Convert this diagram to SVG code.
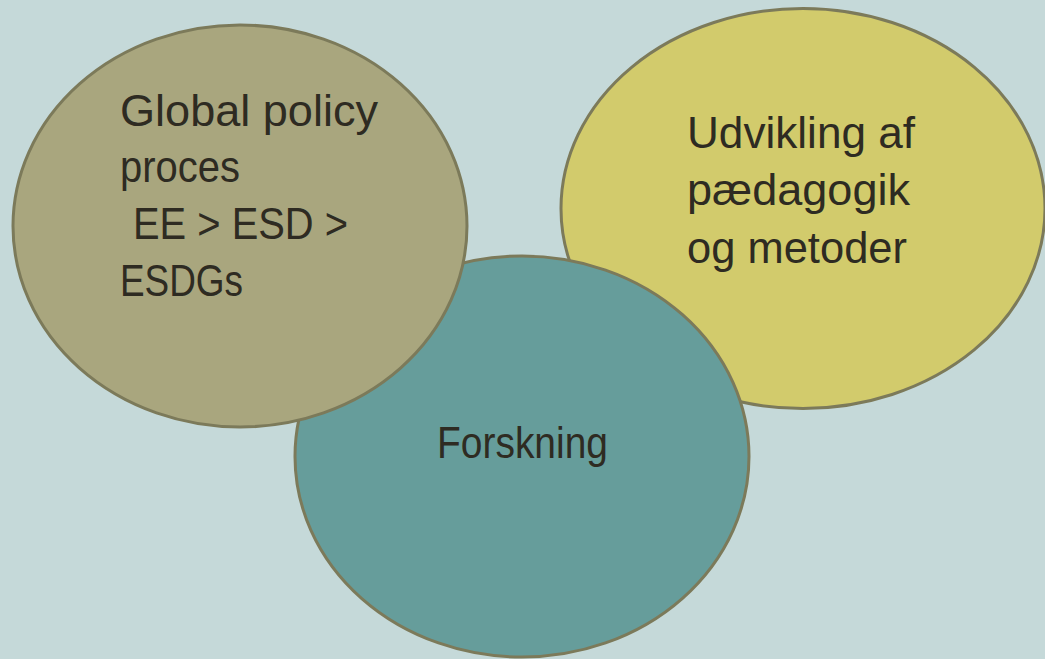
<svg xmlns="http://www.w3.org/2000/svg" width="1045" height="659" viewBox="0 0 1045 659">
<style>
.c{stroke:#7c7a5a;stroke-width:3}
.t{font-family:"Liberation Sans",Arial,sans-serif;font-size:44px;fill:#2e2b22}
</style>
<rect width="1045" height="659" fill="#c5d9d9"/>
<g id="udvikling">
<ellipse class="c" cx="803" cy="208.5" rx="242" ry="200" fill="#d2cb6c"/>
<text class="t" x="687" y="148" textLength="228" lengthAdjust="spacingAndGlyphs">Udvikling af</text>
<text class="t" x="687" y="205" textLength="223" lengthAdjust="spacingAndGlyphs">pædagogik</text>
<text class="t" x="687" y="263" textLength="220" lengthAdjust="spacingAndGlyphs">og metoder</text>
</g>
<g id="forskning">
<ellipse class="c" cx="522" cy="456.5" rx="227" ry="200.5" fill="#669d9b"/>
<text class="t" x="437" y="458" textLength="171" lengthAdjust="spacingAndGlyphs">Forskning</text>
</g>
<g id="global">
<ellipse class="c" cx="240" cy="226" rx="227" ry="201" fill="#a9a67e"/>
<text class="t" x="120" y="126" textLength="258" lengthAdjust="spacingAndGlyphs">Global policy</text>
<text class="t" x="120" y="182" textLength="120" lengthAdjust="spacingAndGlyphs">proces</text>
<text class="t" x="133" y="239" textLength="215" lengthAdjust="spacingAndGlyphs">EE &gt; ESD &gt;</text>
<text class="t" x="120" y="296" textLength="123" lengthAdjust="spacingAndGlyphs">ESDGs</text>
</g>
<g id="connectors"/>
</svg>
